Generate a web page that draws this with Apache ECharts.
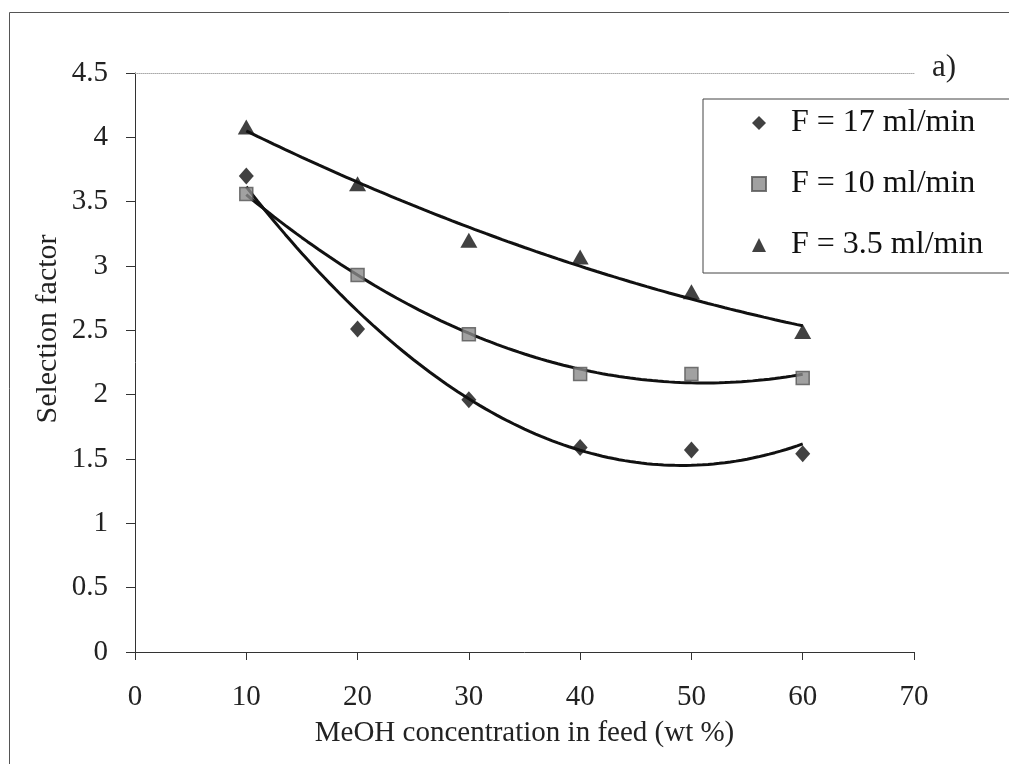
<!DOCTYPE html>
<html>
<head>
<meta charset="utf-8">
<script src="https://cdn.jsdelivr.net/npm/echarts/dist/echarts.min.js"></script>
<style>
html,body{margin:0;padding:0;background:#fff;}
#chart{width:1009px;height:764px;}
</style>
</head>
<body>
<div id="chart"></div>
<script>
// ---- data ----
const meohConc = [10, 20, 30, 40, 50, 60];           // x values (wt %)
const sfF17   = [3.70, 2.51, 1.96, 1.59, 1.57, 1.54]; // F = 17 ml/min
const sfF10   = [3.56, 2.93, 2.47, 2.16, 2.16, 2.13]; // F = 10 ml/min
const sfF35   = [4.08, 3.64, 3.20, 3.07, 2.80, 2.49]; // F = 3.5 ml/min
const seriesNames = ['F = 17 ml/min', 'F = 10 ml/min', 'F = 3.5 ml/min'];
const xTicks = [0, 10, 20, 30, 40, 50, 60, 70];
const yTicks = [0, 0.5, 1, 1.5, 2, 2.5, 3, 3.5, 4, 4.5];

// 2nd-order polynomial least-squares trendline (as in the original Excel chart)
function polyFit2(xs, ys) {
  let n = xs.length, sx = 0, sx2 = 0, sx3 = 0, sx4 = 0, sy = 0, sxy = 0, sx2y = 0;
  for (let i = 0; i < n; i++) {
    const x = xs[i], y = ys[i];
    sx += x; sx2 += x * x; sx3 += x * x * x; sx4 += x * x * x * x;
    sy += y; sxy += x * y; sx2y += x * x * y;
  }
  const A = [[n, sx, sx2, sy], [sx, sx2, sx3, sxy], [sx2, sx3, sx4, sx2y]];
  for (let c = 0; c < 3; c++) {
    for (let r = c + 1; r < 3; r++) {
      const f = A[r][c] / A[c][c];
      for (let k = c; k < 4; k++) A[r][k] -= f * A[c][k];
    }
  }
  const coef = [0, 0, 0];
  for (let r = 2; r >= 0; r--) {
    let s = A[r][3];
    for (let k = r + 1; k < 3; k++) s -= A[r][k] * coef[k];
    coef[r] = s / A[r][r];
  }
  return coef;
}
function trend(xs, ys) {
  const c = polyFit2(xs, ys);
  const out = [];
  const x0 = xs[0], x1 = xs[xs.length - 1];
  for (let i = 0; i <= 100; i++) {
    const x = x0 + (x1 - x0) * i / 100;
    out.push([x, c[0] + c[1] * x + c[2] * x * x]);
  }
  return out;
}
const pts = ys => meohConc.map((x, i) => [x, ys[i]]);

const FONT = '"Liberation Serif", "Times New Roman", serif';
const chart = echarts.init(document.getElementById('chart'), null, {renderer: 'canvas'});

const trendStyle = {type: 'line', symbol: 'none', smooth: false, silent: true, z: 2,
  lineStyle: {color: '#111', width: 3}, itemStyle: {color: '#111'}};

chart.setOption({
  animation: false,
  backgroundColor: '#fff',
  grid: {left: 135, right: 95, top: 73, bottom: 112, containLabel: false},
  xAxis: [{
    type: 'value', position: 'bottom', min: xTicks[0], max: xTicks[xTicks.length - 1], interval: 10,
    name: 'MeOH concentration in feed (wt %)', nameLocation: 'middle', nameGap: 67,
    nameTextStyle: {fontFamily: FONT, fontSize: 29, color: '#222'},
    axisLine: {show: true, onZero: false, lineStyle: {color: '#333', width: 1}},
    axisTick: {show: true, inside: false, length: 8, lineStyle: {color: '#333'}},
    axisLabel: {fontFamily: FONT, fontSize: 29, color: '#222', margin: 31},
    splitLine: {show: false}
  }, {
    type: 'value', position: 'top', min: 0, max: 70,
    axisLine: {show: true, onZero: false, lineStyle: {color: '#aaa', width: 1, type: 'dotted'}},
    axisTick: {show: false}, axisLabel: {show: false}, splitLine: {show: false}
  }],
  yAxis: {
    type: 'value', min: yTicks[0], max: yTicks[yTicks.length - 1], interval: 0.5,
    axisLine: {show: true, onZero: false, lineStyle: {color: '#333', width: 1}},
    axisTick: {show: true, inside: false, length: 9, lineStyle: {color: '#333'}},
    axisLabel: {fontFamily: FONT, fontSize: 29, color: '#222', margin: 27},
    splitLine: {show: false}
  },
  legend: {
    data: seriesNames,
    orient: 'vertical', left: 703, top: 99,
    itemWidth: 14, itemHeight: 14, itemGap: 29,
    padding: [8, 60, 12, 48],
    borderColor: '#444', borderWidth: 1,
    textStyle: {fontFamily: FONT, fontSize: 32, color: '#111', padding: [0, 0, 0, 20]}
  },
  graphic: [
    {type: 'rect', left: 7, top: 10, silent: true, z: -10,
      shape: {width: 1200, height: 1000}, style: {fill: 'none', stroke: '#555', lineWidth: 1}},
    {type: 'text', x: 48, y: 329, rotation: Math.PI / 2, silent: true,
      style: {text: 'Selection factor', fontFamily: FONT, fontSize: 30, fill: '#222',
        textAlign: 'center', textVerticalAlign: 'middle'}},
    {type: 'text', x: 932, y: 52, silent: true,
      style: {text: 'a)', fontFamily: FONT, fontSize: 31, fill: '#222'}}
  ],
  series: [
    Object.assign({name: 'trend17', data: trend(meohConc, sfF17)}, trendStyle),
    Object.assign({name: 'trend10', data: trend(meohConc, sfF10)}, trendStyle),
    Object.assign({name: 'trend35', data: trend(meohConc, sfF35)}, trendStyle),
    {name: seriesNames[0], type: 'scatter', symbol: 'diamond', symbolSize: [15, 17], z: 5,
      itemStyle: {color: '#111'}, data: pts(sfF17)},
    {name: seriesNames[1], type: 'scatter', symbol: 'rect', symbolSize: 13, z: 5,
      itemStyle: {color: '#8a8a8a', borderColor: '#555', borderWidth: 1.5}, data: pts(sfF10)},
    {name: seriesNames[2], type: 'scatter', symbol: 'triangle', symbolSize: [17, 15], z: 5,
      itemStyle: {color: '#111'}, data: pts(sfF35)}
  ]
});
</script>
</body>
</html>
